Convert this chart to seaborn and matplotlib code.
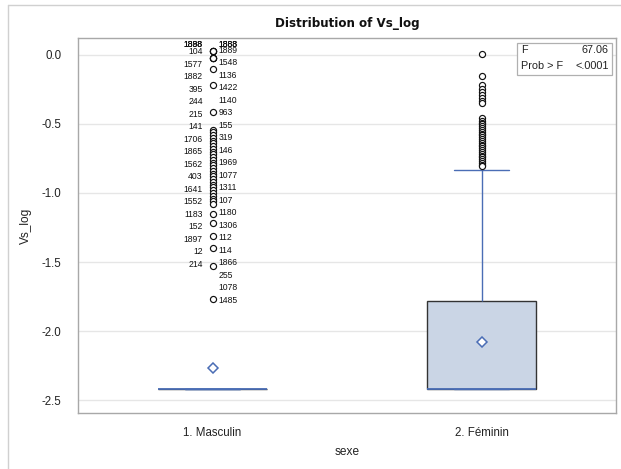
import numpy as np
import pandas as pd
import matplotlib
matplotlib.use("Agg")
import matplotlib.pyplot as plt
from matplotlib.lines import Line2D
from matplotlib.patches import Rectangle
import seaborn as sns

# ---------------- data ----------------
categories = ["1. Masculin", "2. Féminin"]

# Masculin: value / count pairs (box collapsed at the minimum, all others are outliers)
masc_values = [-2.42, 0.03, -0.02, -0.10, -0.22, -0.41,
               -0.54, -0.56, -0.58, -0.60, -0.62, -0.64, -0.66, -0.68, -0.70,
               -0.72, -0.74, -0.76, -0.78, -0.80, -0.82, -0.84, -0.86, -0.88,
               -0.90, -0.92, -0.94, -0.96, -0.98, -1.00, -1.02, -1.04, -1.06,
               -1.08, -1.15, -1.22, -1.31, -1.40, -1.53, -1.77]
masc_counts = [469, 4, 4, 1, 1, 1,
               1, 1, 1, 1, 1, 1, 1, 1, 1,
               1, 1, 1, 1, 1, 1, 1, 1, 1,
               1, 1, 1, 1, 1, 1, 1, 1, 1,
               1, 1, 1, 1, 1, 1, 1]

# Féminin: value / count pairs
fem_values = [-2.42, -2.20, -2.00, -1.78, -1.50, -1.10, -0.83,
              0.01, -0.15, -0.22, -0.245, -0.27, -0.29, -0.31, -0.33, -0.35,
              -0.46, -0.475, -0.49, -0.50, -0.515, -0.53, -0.54, -0.555, -0.57,
              -0.58, -0.595, -0.61, -0.62, -0.635, -0.65, -0.66, -0.675, -0.69,
              -0.70, -0.715, -0.73, -0.74, -0.755, -0.77, -0.78, -0.795, -0.805]
fem_counts = [290, 10, 10, 50, 20, 12, 5] + [1] * 36

# Outlier ID labels (Masculin), top to bottom
crowded_left_ids = ["1888", "1838", "1898"]
crowded_right_ids = ["1888", "1868", "1883"]
left_ids = ["104", "1577", "1882", "395", "244", "215", "141", "1706", "1865",
            "1562", "403", "1641", "1552", "1183", "152", "1897", "12", "214"]
right_ids = ["1889", "1548", "1136", "1422", "1140", "963", "155", "319", "146",
             "1969", "1077", "1311", "107", "1180", "1306", "112", "114", "1866",
             "255", "1078", "1485"]

stat_F = "67.06"
stat_p = "<.0001"

yticks = [0.0, -0.5, -1.0, -1.5, -2.0, -2.5]

# ---------------- build table ----------------
vals = np.concatenate([np.repeat(masc_values, masc_counts),
                       np.repeat(fem_values, fem_counts)])
grp = [categories[0]] * int(np.sum(masc_counts)) + [categories[1]] * int(np.sum(fem_counts))
df = pd.DataFrame({"sexe": grp, "Vs_log": vals})

# ---------------- style ----------------
sns.set_theme(style="white")
plt.rcParams["font.family"] = ["Liberation Sans", "DejaVu Sans"]
plt.rcParams["axes.unicode_minus"] = False

blue = "#4A6DB5"
fig = plt.figure(figsize=(6.21, 4.69), dpi=100)
fig.patch.set_facecolor("white")
W, H = 621, 469
ax = fig.add_axes([78 / W, 1 - 413 / H, (616 - 78) / W, (413 - 38) / H])

sns.boxplot(data=df, x="sexe", y="Vs_log", order=categories, ax=ax,
            color="#CAD5E5", saturation=1, width=0.405, whis=1.5,
            showmeans=True,
            boxprops=dict(edgecolor="#333333", linewidth=1.0),
            medianprops=dict(color=blue, linewidth=1.3),
            whiskerprops=dict(color=blue, linewidth=1.0),
            capprops=dict(color=blue, linewidth=1.0),
            meanprops=dict(marker="D", markerfacecolor="white",
                           markeredgecolor=blue, markersize=5.5,
                           markeredgewidth=1.1),
            flierprops=dict(marker="o", markerfacecolor="white",
                            markeredgecolor="#111111", markersize=4.4,
                            markeredgewidth=0.85))

ax.set_ylim(-2.594, 0.123)
ax.set_xlim(-0.5, 1.5)
ax.set_yticks(yticks)
ax.set_yticklabels([f"{t:.1f}" for t in yticks])
ax.yaxis.grid(True, color="#E6E6E6", linewidth=1.0)
ax.xaxis.grid(False)
ax.set_axisbelow(True)
for s in ax.spines.values():
    s.set_color("#A8A8A8")
    s.set_linewidth(1.0)
ax.tick_params(axis="both", which="major", length=4, width=0.8,
               color="#A8A8A8", labelsize=8.3, labelcolor="#222222")
ax.tick_params(axis="y", pad=8)
ax.tick_params(axis="x", pad=6)
ax.set_xlabel("sexe", fontsize=8.6, color="#222222", labelpad=5)
ax.set_ylabel("Vs_log", fontsize=8.6, color="#222222", labelpad=7)
ax.set_title("Distribution of Vs_log", fontsize=8.6, fontweight="bold",
             family="DejaVu Sans", pad=8, color="#111111")

# ---------------- outlier labels (Masculin) ----------------
top_val = max(masc_values[1:])
step = 9.0  # points between label slots
lab_kw = dict(fontsize=6.2, color="#111111", va="center",
              textcoords="offset points", annotation_clip=False)
for lid in crowded_left_ids:
    ax.annotate(lid, xy=(0, top_val), xytext=(-7.0, 4.6), ha="right", **lab_kw)
for lid in crowded_right_ids:
    ax.annotate(lid, xy=(0, top_val), xytext=(4.4, 4.6), ha="left", **lab_kw)
for k, lid in enumerate(left_ids):
    ax.annotate(lid, xy=(0, top_val), xytext=(-7.0, -0.7 - k * step), ha="right", **lab_kw)
for k, lid in enumerate(right_ids):
    ax.annotate(lid, xy=(0, top_val), xytext=(4.4, 0.3 - k * step), ha="left", **lab_kw)

# ---------------- statistics inset ----------------
bx0, bx1 = (517 - 78) / 538, (612 - 78) / 538
by0, by1 = (413 - 75) / 375, (413 - 43) / 375
ax.add_patch(Rectangle((bx0, by0), bx1 - bx0, by1 - by0, transform=ax.transAxes,
                       facecolor="white", edgecolor="#B0B0B0", linewidth=0.9, zorder=5))
tkw = dict(transform=ax.transAxes, fontsize=7.8, color="#222222", va="center", zorder=6)
ax.text((521 - 78) / 538, (413 - 50) / 375, "F", ha="left", **tkw)
ax.text((609 - 78) / 538, (413 - 50) / 375, stat_F, ha="right", **tkw)
ax.text((521 - 78) / 538, (413 - 66) / 375, "Prob > F", ha="left", **tkw)
ax.text((609 - 78) / 538, (413 - 66) / 375, stat_p, ha="right", **tkw)

# ---------------- outer frame ----------------
fig.add_artist(Line2D([8 / W, 1], [1 - 5 / H, 1 - 5 / H], transform=fig.transFigure,
                      color="#D0D0D0", linewidth=1.0))
fig.add_artist(Line2D([8 / W, 8 / W], [0, 1 - 5 / H], transform=fig.transFigure,
                      color="#D0D0D0", linewidth=1.0))

fig.savefig("out.png", dpi=100, facecolor="white")
